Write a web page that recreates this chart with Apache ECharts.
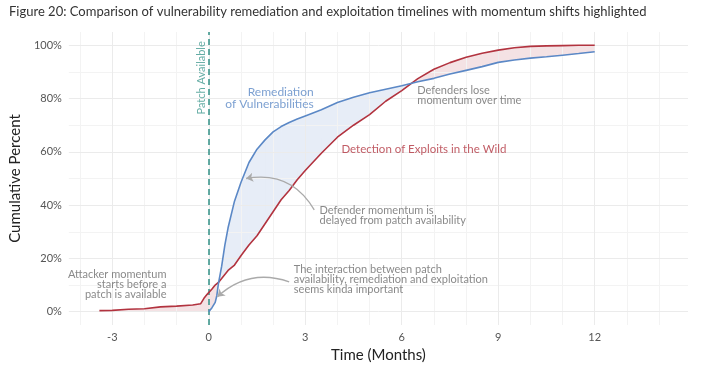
<!DOCTYPE html>
<html>
<head>
<meta charset="utf-8">
<script src="https://cdn.jsdelivr.net/npm/echarts@6/dist/echarts.min.js"></script>
<style>
html, body { margin: 0; background: #fff; }
#chart { width: 710px; height: 375px; }
</style>
</head>
<body>
<div id="chart"></div>
<script>
// months relative to patch availability (shared by both curves)
const months = [-3.4, -3, -2.5, -2, -1.5, -1, -0.5, -0.25, -0.15, -0.05,
    0, 0.1, 0.2, 0.25, 0.3, 0.4, 0.5, 0.6, 0.8, 1.0,
    1.25, 1.5, 1.75, 2.0, 2.25, 2.5, 2.75, 3.0, 3.5, 4.0,
    4.5, 5.0, 5.5, 6.0, 6.5, 7.0, 7.5, 8.0, 8.5, 9.0,
    9.5, 10, 10.5, 11, 11.5, 12];

// cumulative percent of exploits detected in the wild
const exploits = [0.4, 0.5, 0.9, 1.1, 1.8, 2.1, 2.5, 3.0, 5.0, 6.5,
    7.0, 8.5, 10, 10.5, 11, 12.5, 14, 15.5, 17.5, 21,
    25, 28.5, 33, 37.5, 42, 45.5, 49.5, 53, 59.5, 65.5,
    70, 74, 79, 83, 87.5, 91, 93.5, 95.5, 97, 98.2,
    99.1, 99.6, 99.8, 99.9, 100, 100];

// cumulative percent of vulnerabilities remediated (nothing before the patch)
const remediation = [null, null, null, null, null, null, null, null, null, null,
    0, 1.5, 3.5, 6, 10.5, 17, 25, 31.5, 41.5, 48.5,
    56, 61, 64.5, 67.5, 69.5, 71, 72.3, 73.5, 75.8, 78.5,
    80.5, 82.2, 83.5, 84.8, 86.3, 87.6, 89.2, 90.6, 92, 93.6,
    94.5, 95.2, 95.7, 96.3, 96.9, 97.6];

const xTicks = [-3, 0, 3, 6, 9, 12];
const yTicks = [0, 20, 40, 60, 80, 100];
const xMinor = [-4, -2, -1, 1, 2, 4, 5, 7, 8, 10, 11, 13, 14];
const yMinor = [10, 30, 50, 70, 90];

const patchMonth = 0;

const FONT = 'Lato';
const RED = '#b2333f';
const BLUE = '#5b88c6';
const TEAL = '#3d978d';
const NOTE = '#6b6b6b';
const BLUE_FILL = 'rgba(91,136,198,0.15)';
const RED_FILL = 'rgba(178,51,63,0.14)';

function pairs(ys)
{
    let out = [];
    months.forEach(function (m, i) {
        if (ys[i] != null) out.push([m, ys[i]]);
    });
    return out;
}

function remAt(i)
{
    return remediation[i] == null ? 0 : remediation[i];
}

// one polygon (or two, where the curves cross) between neighbouring months
function renderGap(params, api)
{
    let i = params.dataIndex;
    if (i >= months.length - 1) return;
    let m0 = months[i], m1 = months[i + 1];
    let r0 = exploits[i], r1 = exploits[i + 1];
    let b0 = remAt(i), b1 = remAt(i + 1);
    let d0 = b0 - r0, d1 = b1 - r1;
    let shapes = [];

    function poly(pts, color)
    {
        shapes.push({
            type: 'polygon',
            shape: { points: pts.map(function (p) { return api.coord(p); }) },
            style: { fill: color },
            silent: true
        });
    }

    if (d0 * d1 < 0) {
        let t = d0 / (d0 - d1);
        let mc = m0 + t * (m1 - m0);
        let yc = r0 + t * (r1 - r0);
        poly([[m0, r0], [mc, yc], [m0, b0]], d0 > 0 ? BLUE_FILL : RED_FILL);
        poly([[mc, yc], [m1, r1], [m1, b1]], d1 > 0 ? BLUE_FILL : RED_FILL);
    } else {
        let color = (d0 + d1) > 0 ? BLUE_FILL : RED_FILL;
        poly([[m0, r0], [m1, r1], [m1, b1], [m0, b0]], color);
    }
    return { type: 'group', children: shapes };
}

function note(x, y, text, opts)
{
    return {
        value: [x, y],
        label: Object.assign({
            show: true,
            position: [0, 0],
            formatter: text,
            fontFamily: FONT,
            fontSize: 11,
            lineHeight: 10,
            color: NOTE,
            align: 'left',
            verticalAlign: 'middle'
        }, opts || {})
    };
}

const gridLines = [];
xMinor.forEach(function (v) { gridLines.push({ xAxis: v, lineStyle: { color: '#f3f3f3' } }); });
yMinor.forEach(function (v) { gridLines.push({ yAxis: v, lineStyle: { color: '#f3f3f3' } }); });
xTicks.forEach(function (v) { gridLines.push({ xAxis: v, lineStyle: { color: '#ebebeb' } }); });
yTicks.forEach(function (v) { gridLines.push({ yAxis: v, lineStyle: { color: '#ebebeb' } }); });

var myChart = echarts.init(document.getElementById('chart'));

var option = {
    animation: false,
    backgroundColor: '#fff',
    title: {
        text: 'Figure 20: Comparison of vulnerability remediation and exploitation timelines with momentum shifts highlighted',
        left: 4,
        top: 0,
        textStyle: { fontFamily: FONT, fontSize: 13, fontWeight: 'normal', color: '#333' }
    },
    grid: { left: 67, right: 22, top: 32, bottom: 50 },
    xAxis: {
        type: 'value',
        min: -4.35,
        max: 14.9,
        name: 'Time (Months)',
        nameLocation: 'middle',
        nameGap: 18,
        nameTextStyle: { fontFamily: FONT, fontSize: 15, color: '#222' },
        axisLine: { show: false },
        axisTick: { show: false },
        splitLine: { show: false },
        axisLabel: {
            customValues: xTicks,
            fontFamily: FONT, fontSize: 11, color: '#555', margin: 7
        }
    },
    yAxis: {
        type: 'value',
        min: -5,
        max: 105,
        name: 'Cumulative Percent',
        nameLocation: 'middle',
        nameGap: 26,
        nameTextStyle: { fontFamily: FONT, fontSize: 15, color: '#222' },
        axisLine: { show: false },
        axisTick: { show: false },
        splitLine: { show: false },
        axisLabel: {
            customValues: yTicks,
            formatter: function (v) { return v + '%'; },
            fontFamily: FONT, fontSize: 11, color: '#555', margin: 7
        }
    },
    series: [
        {
            name: 'grid',
            type: 'line',
            data: [],
            silent: true,
            z: 0,
            markLine: {
                silent: true,
                symbol: 'none',
                label: { show: false },
                lineStyle: { type: 'solid', width: 1 },
                data: gridLines
            }
        },
        {
            name: 'gap',
            type: 'custom',
            silent: true,
            z: 1,
            data: pairs(exploits),
            renderItem: renderGap
        },
        {
            name: 'Detection of Exploits in the Wild',
            type: 'line',
            data: pairs(exploits),
            symbol: 'none',
            silent: true,
            z: 10,
            lineStyle: { color: RED, width: 1.6, type: 'solid' }
        },
        {
            name: 'Remediation of Vulnerabilities',
            type: 'line',
            data: pairs(remediation),
            symbol: 'none',
            silent: true,
            z: 11,
            lineStyle: { color: BLUE, width: 1.6, type: 'solid' }
        },
        {
            name: 'patch',
            type: 'line',
            data: [],
            silent: true,
            z: 3,
            markLine: {
                silent: true,
                symbol: 'none',
                label: { show: false },
                lineStyle: { color: TEAL, type: [6, 4], width: 1.6 },
                data: [{ xAxis: patchMonth }]
            }
        },
        {
            name: 'arrows',
            type: 'lines',
            coordinateSystem: 'cartesian2d',
            silent: true,
            z: 12,
            symbol: ['none', 'arrow'],
            symbolSize: 7,
            lineStyle: { color: '#aaaaaa', width: 1.3, opacity: 1 },
            data: [
                { coords: [[3.28, 38.2], [1.16, 50.0]], lineStyle: { curveness: -0.35 } },
                { coords: [[2.5, 11.2], [0.27, 5.6]], lineStyle: { curveness: -0.3 } }
            ]
        },
        {
            name: 'notes',
            type: 'scatter',
            symbolSize: 1,
            silent: true,
            z: 13,
            itemStyle: { color: 'rgba(0,0,0,0)' },
            data: [
                note(3.28, 79.8, 'Remediation\nof Vulnerabilities',
                    { color: BLUE, fontSize: 12, lineHeight: 12, align: 'right' }),
                note(4.14, 60.7, 'Detection of Exploits in the Wild',
                    { color: RED, fontSize: 11.5 }),
                note(6.5, 81.0, 'Defenders lose\nmomentum over time'),
                note(3.46, 35.8, 'Defender momentum is\ndelayed from patch availability'),
                note(2.66, 12.0, 'The interaction between patch\navailability, remediation and exploitation\nseems kinda important'),
                note(-1.3, 9.9, 'Attacker momentum\nstarts before a\npatch is available', { align: 'right' }),
                note(-0.2, 87.6, 'Patch Available',
                    { color: TEAL, fontSize: 11, rotate: 90, align: 'center' })
            ]
        }
    ]
};

myChart.setOption(option);
</script>
</body>
</html>
